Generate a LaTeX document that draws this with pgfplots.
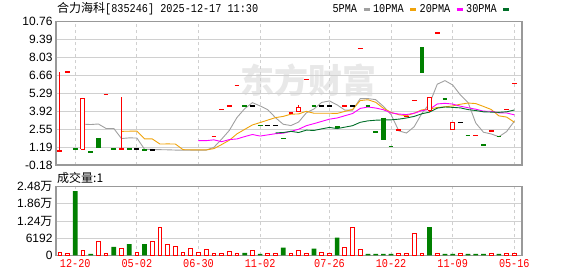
\documentclass[border=0pt]{standalone}
\usepackage{fontspec}
\setmainfont{Liberation Sans}
\newfontfamily\cjk{Noto Sans CJK SC}
\newfontfamily\mono[FakeStretch=0.85]{Liberation Mono}
\usepackage{pgfplots}
\pgfplotsset{compat=1.18}
\definecolor{cred}{RGB}{255,0,0}
\definecolor{cgreen}{RGB}{0,128,0}
\definecolor{ma5}{RGB}{160,160,160}
\definecolor{ma10}{RGB}{240,163,10}
\definecolor{ma20}{RGB}{255,0,255}
\definecolor{ma30}{RGB}{0,110,40}
\definecolor{framec}{RGB}{153,153,153}
\definecolor{gridc}{RGB}{208,208,208}
\pgfplotsset{
  panel/.style={
    scale only axis, width=466pt, xmin=-0.5, xmax=60,
    xtick={2,10,18,26,35,43,51,59},
    major tick length=0pt,
    ymajorgrids, xmajorgrids,
    y grid style={gridc, line width=0.9pt},
    x grid style={gridc, dashed, line width=0.9pt},
    axis line style={framec, line width=1.3pt},
    yticklabel style={font=\fontsize{12}{14}\selectfont, text=black},
  }
}
\begin{document}
\begin{tikzpicture}
\path[use as bounding box] (0pt,0pt) rectangle (578pt,-276pt);
\node[anchor=west, inner sep=0pt, font=\fontsize{12}{14}\selectfont] at (57pt,-9pt) {{\cjk 合力海科}{\mono [835246] 2025-12-17 11:30}};
\node[anchor=center, inner sep=0pt, text=black!9, font=\cjk\bfseries\fontsize{34}{34}\selectfont] at (308pt,-80pt) {东方财富};
\node[anchor=west, inner sep=0pt, font=\cjk\fontsize{12}{14}\selectfont] at (57pt,-178pt) {成交量:1};

\begin{axis}[panel, name=main, at={(56pt,-21.7pt)}, anchor=north west, height=143.3pt,
  ymin=-0.18, ymax=10.76,
  ytick={-0.18,1.19,2.55,3.92,5.29,6.66,8.03,9.39,10.76},
  yticklabels={-0.18,1.19,2.55,3.92,5.29,6.66,8.03,9.39,10.76},
  xticklabels={},
  legend columns=4,
  legend plot pos=right,
  legend style={draw=none, fill=none, inner sep=0pt, at={(0.9765,1.035)}, anchor=south east,
    font=\mono\fontsize{12}{14}\selectfont,
    /tikz/every even column/.append style={column sep=0pt},
    /tikz/every odd column/.append style={column sep=3pt}},
  legend image code/.code={\draw[#1, line width=3pt] (0pt,0pt) -- (6pt,0pt);},
]
% moving averages
\addplot[ma5, line width=0.9pt] coordinates {
(3,2.94) (4,2.91) (5,2.95) (6,2.61) (7,2.61) (8,1.84) (9,1.89) (10,1.88) (11,1.02) (12,1.01)
(13,0.99) (14,0.98) (15,0.96) (16,0.96) (17,0.96) (18,0.96) (19,0.96) (20,1.17) (21,1.79) (22,2.46)
(23,3.45) (24,4.12) (25,4.58) (26,4.33) (27,4.04) (28,3.43) (29,2.93) (30,2.83) (31,3.10) (32,3.80)
(33,4.10) (34,4.60) (35,4.71) (36,4.41) (37,4.01) (38,4.01) (39,4.89) (40,4.89) (41,4.81) (42,4.30)
(43,3.67) (44,2.43) (45,2.26) (46,2.74) (47,3.76) (48,4.51) (49,5.99) (50,6.26) (51,5.93) (52,5.17)
(53,4.59) (54,3.02) (55,2.32) (56,2.19) (57,1.98) (58,2.37) (59,3.16)};
\addlegendentry{5PMA}
\addplot[ma10, line width=0.9pt] coordinates {
(8,2.39) (9,2.40) (10,2.41) (11,1.82) (12,1.81) (13,1.42) (14,1.43) (15,1.42) (16,0.99) (17,0.98)
(18,0.98) (19,0.97) (20,1.07) (21,1.38) (22,1.71) (23,2.20) (24,2.54) (25,2.88) (26,3.06) (27,3.25)
(28,3.44) (29,3.53) (30,3.70) (31,3.72) (32,3.92) (33,3.77) (34,3.77) (35,3.77) (36,3.76) (37,3.91)
(38,4.06) (39,4.74) (40,4.80) (41,4.61) (42,4.15) (43,3.84) (44,3.66) (45,3.58) (46,3.78) (47,4.03)
(48,4.09) (49,4.21) (50,4.26) (51,4.33) (52,4.46) (53,4.55) (54,4.51) (55,4.29) (56,4.06) (57,3.57)
(58,3.48) (59,3.09)};
\addlegendentry{10PMA}
\addplot[ma20, line width=0.9pt] coordinates {
(18,1.68) (19,1.68) (20,1.74) (21,1.60) (22,1.76) (23,1.81) (24,1.99) (25,2.15) (26,2.03) (27,2.12)
(28,2.21) (29,2.25) (30,2.39) (31,2.55) (32,2.82) (33,2.98) (34,3.15) (35,3.32) (36,3.41) (37,3.58)
(38,3.75) (39,4.14) (40,4.25) (41,4.17) (42,4.04) (43,3.80) (44,3.71) (45,3.67) (46,3.77) (47,3.97)
(48,4.07) (49,4.48) (50,4.53) (51,4.47) (52,4.31) (53,4.19) (54,4.08) (55,3.93) (56,3.92) (57,3.80)
(58,3.79) (59,3.65)};
\addlegendentry{20PMA}
\addplot[ma30, line width=0.9pt] coordinates {
(28,2.27) (29,2.30) (30,2.39) (31,2.30) (32,2.48) (33,2.46) (34,2.58) (35,2.69) (36,2.60) (37,2.71)
(38,2.82) (39,3.08) (40,3.19) (41,3.24) (42,3.26) (43,3.27) (44,3.32) (45,3.41) (46,3.53) (47,3.73)
(48,3.86) (49,4.16) (50,4.25) (51,4.22) (52,4.18) (53,4.05) (54,3.98) (55,3.88) (56,3.86) (57,3.84)
(58,3.88) (59,4.02)};
\addlegendentry{30PMA}

% candle wicks (low, high)
\addplot[cred, line width=1pt, unbounded coords=jump, forget plot] coordinates {
(0,0.89) (0,6.94) (0,nan) (8,1.04) (8,4.99) (8,nan) (31,4.21) (31,4.37) (31,nan) (48,3.85) (48,4.00)};
% red hollow bodies
\addplot[cred, fill=white, line width=1pt, unbounded coords=jump, forget plot] coordinates {
(2.74,1.04) (3.26,1.04) (3.26,4.91) (2.74,4.91) (2.74,1.04) (3,nan)
(30.74,3.87) (31.26,3.87) (31.26,4.21) (30.74,4.21) (30.74,3.87) (31,nan)
(47.74,4.00) (48.26,4.00) (48.26,4.97) (47.74,4.97) (47.74,4.00) (48,nan)
(50.74,2.50) (51.26,2.50) (51.26,3.05) (50.74,3.05) (50.74,2.50)};
% green filled bodies (open, close)
\addplot[cgreen, line width=4.7pt, unbounded coords=jump, forget plot] coordinates {
(5,1.90) (5,1.09) (5,nan) (42,3.44) (42,1.74) (42,nan) (47,8.80) (47,6.85)};
% flat candles (open = close): short horizontal dashes
\addplot[cred, line width=1.3pt, unbounded coords=jump, forget plot] coordinates {
(-0.31,0.89) (0.31,0.89) (0,nan) (0.69,6.91) (1.31,6.91) (1,nan) (5.69,5.22) (6.31,5.22) (6,nan)
(7.69,1.04) (8.31,1.04) (8,nan) (19.69,2.02) (20.31,2.02) (20,nan) (20.69,4.06) (21.31,4.06) (21,nan)
(21.69,4.32) (22.31,4.32) (22,nan) (22.69,5.88) (23.31,5.88) (23,nan) (29.69,3.80) (30.31,3.80) (30,nan)
(31.69,6.33) (32.31,6.33) (32,nan) (36.69,4.33) (37.31,4.33) (37,nan) (38.69,8.73) (39.31,8.73) (39,nan)
(43.69,2.50) (44.31,2.50) (44,nan) (44.69,3.50) (45.31,3.50) (45,nan) (45.69,4.72) (46.31,4.72) (46,nan)
(48.69,9.90) (49.31,9.90) (49,nan) (53.69,2.07) (54.31,2.07) (54,nan) (55.69,2.42) (56.31,2.42) (56,nan)
(57.69,4.05) (58.31,4.05) (58,nan) (58.69,6.02) (59.31,6.02)};
\addplot[cgreen, line width=1.3pt, unbounded coords=jump, forget plot] coordinates {
(1.69,1.04) (2.31,1.04) (2,nan) (3.69,0.81) (4.31,0.81) (4,nan) (6.69,1.04) (7.31,1.04) (7,nan)
(8.69,1.04) (9.31,1.04) (9,nan) (10.69,0.96) (11.31,0.96) (11,nan) (23.69,4.32) (24.31,4.32) (24,nan)
(25.69,2.83) (26.31,2.83) (26,nan) (28.69,1.85) (29.31,1.85) (29,nan) (32.69,4.33) (33.31,4.33) (33,nan)
(35.69,2.72) (36.31,2.72) (36,nan) (39.69,4.33) (40.31,4.33) (40,nan) (40.69,2.35) (41.31,2.35) (41,nan)
(42.69,1.22) (43.31,1.22) (43,nan) (49.69,4.87) (50.31,4.87) (50,nan) (52.69,2.07) (53.31,2.07) (53,nan)
(54.69,1.35) (55.31,1.35) (55,nan) (56.69,1.98) (57.31,1.98)};
\addplot[black, line width=1.3pt, unbounded coords=jump, forget plot] coordinates {
(9.69,1.04) (10.31,1.04) (10,nan) (11.69,0.96) (12.31,0.96) (12,nan) (24.69,4.32) (25.31,4.32) (25,nan)
(26.69,2.83) (27.31,2.83) (27,nan) (27.69,2.83) (28.31,2.83) (28,nan) (33.69,4.33) (34.31,4.33) (34,nan)
(34.69,4.33) (35.31,4.33) (35,nan) (37.69,4.33) (38.31,4.33) (38,nan) (51.69,3.05) (52.31,3.05)};
\end{axis}

\begin{axis}[panel, at={(main.south west)}, yshift=-21.7pt, anchor=north west, height=68.6pt,
  ymin=0, ymax=24768, scaled y ticks=false,
  ytick={0,6192,12384,18576,24768},
  yticklabels={0,6192,1.24{\cjk 万},1.86{\cjk 万},2.48{\cjk 万}},
  xticklabels={12-20,05-02,06-30,11-02,07-26,10-22,11-09,05-16},
  xticklabel style={text=cred, font=\mono\fontsize{12}{14}\selectfont, yshift=-1pt},
]
\addplot[ybar, bar width=3.7pt, bar shift=0pt, draw=cred, fill=white, line width=1pt] coordinates {
(0,840) (1,600) (3,1800) (5,5160) (6,480) (8,2520) (10,960) (12,5160) (13,10080) (14,4080)
(15,3000) (16,960) (17,2520) (18,960) (19,2160) (20,480) (21,480) (22,1200) (23,480) (25,1560)
(27,480) (28,480) (30,480) (31,1560) (32,480) (34,960) (35,480) (37,2640) (38,10200) (39,1920)
(44,480) (45,480) (46,8040) (47,480) (49,480) (52,480) (56,480) (58,480) (59,480)};
\addplot[ybar, bar width=4.7pt, bar shift=0pt, draw=none, fill=cgreen] coordinates {
(2,23150) (4,480) (7,3000) (9,4080) (11,4080) (24,840) (26,480) (29,2760) (33,2400) (36,6360)
(40,480) (41,480) (42,480) (43,480) (48,10200) (50,480) (51,480) (53,480) (54,480) (55,480) (57,480)};
\end{axis}
\end{tikzpicture}
\end{document}
